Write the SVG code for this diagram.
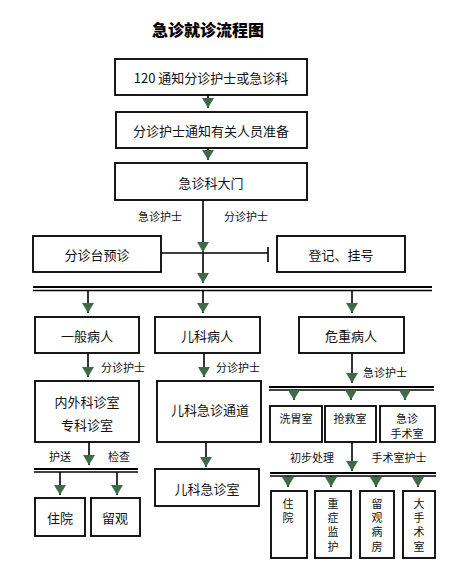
<svg xmlns="http://www.w3.org/2000/svg" width="467" height="583" viewBox="0 0 467 583">
<defs>
<marker id="tri" viewBox="0 0 10 12" refX="10" refY="6" markerWidth="10" markerHeight="12" markerUnits="userSpaceOnUse" orient="auto">
<path d="M0,0 L10,6 L0,12 z" fill="#3d6b48"/>
</marker>
<style>
.box{fill:#fff;stroke:#000;stroke-width:1.8}
.t{font-family:"Noto Sans CJK SC","Noto Sans",sans-serif;font-size:13px;fill:#111;text-anchor:middle;dominant-baseline:central}
.s{font-size:11px}
.v{font-family:"Noto Sans CJK SC","Noto Sans",sans-serif;font-size:11px;fill:#111;writing-mode:vertical-rl;text-orientation:upright;letter-spacing:3.4px}
.title{font-family:"Noto Sans CJK SC",sans-serif;font-size:16px;font-weight:900;fill:#000;text-anchor:middle}
.ln{stroke:#000;stroke-width:1.6;fill:none}
.ar{stroke:#000;stroke-width:1.6;fill:none;marker-end:url(#tri)}
.d1{stroke:#000;stroke-width:2}
.d2{stroke:#000;stroke-width:1.4}
</style>
</defs>
<rect width="467" height="583" fill="#fff"/>
<text class="title" x="208" y="36">急诊就诊流程图</text>

<g id="connectors">
<path class="ar" d="M208,95 V108"/>
<path class="ar" d="M208,148 V160"/>
<path class="ar" d="M203,200 V252"/>
<path class="ln" d="M161,253 H268 M268,247 V262"/>
<path class="ar" d="M203,253 V283"/>
<line class="d1" x1="33" y1="287" x2="432" y2="287"/>
<line class="d2" x1="33" y1="290.5" x2="432" y2="290.5"/>
<path class="ar" d="M88,291 V313"/>
<path class="ar" d="M203,291 V313"/>
<path class="ar" d="M352,291 V313"/>
<path class="ar" d="M88,353 V377"/>
<path class="ar" d="M204,353 V377"/>
<path class="ar" d="M352,353 V383"/>
<line class="d1" x1="269" y1="387" x2="434" y2="387"/>
<line class="d2" x1="269" y1="390" x2="434" y2="390"/>
<path class="ar" d="M294,390 V400"/>
<path class="ar" d="M351,390 V400"/>
<path class="ar" d="M405,390 V400"/>
<path class="ar" d="M206,442 V467"/>
<path class="ar" d="M89,442 V465"/>
<line class="d1" x1="34" y1="469" x2="138" y2="469"/>
<line class="d2" x1="34" y1="472" x2="138" y2="472"/>
<path class="ar" d="M60,472 V495"/>
<path class="ar" d="M117,472 V495"/>
<path class="ar" d="M352,442 V471"/>
<line class="d1" x1="270" y1="473" x2="436" y2="473"/>
<line class="d2" x1="270" y1="476" x2="436" y2="476"/>
<path class="ar" d="M288,476 V487"/>
<path class="ar" d="M331,476 V487"/>
<path class="ar" d="M376,476 V487"/>
<path class="ar" d="M418,476 V487"/>
<text class="t s" x="160" y="216">急诊护士</text>
<text class="t s" x="246" y="216">分诊护士</text>
<text class="t s" x="123" y="367">分诊护士</text>
<text class="t s" x="238" y="367">分诊护士</text>
<text class="t s" x="385" y="372">急诊护士</text>
<text class="t s" x="60" y="456">护送</text>
<text class="t s" x="119" y="456">检查</text>
<text class="t s" x="312" y="457">初步处理</text>
<text class="t s" x="399" y="457">手术室护士</text>
</g>

<g id="n1"><rect class="box" x="115" y="59" width="192" height="36"/><text class="t" x="211" y="77">120 通知分诊护士或急诊科</text></g>
<g id="n2"><rect class="box" x="116" y="112" width="191" height="36"/><text class="t" x="211" y="130">分诊护士通知有关人员准备</text></g>
<g id="n3"><rect class="box" x="115" y="163" width="192" height="37"/><text class="t" x="211" y="182">急诊科大门</text></g>
<g id="n4"><rect class="box" x="33" y="236" width="128" height="36"/><text class="t" x="97" y="254">分诊台预诊</text></g>
<g id="n5"><rect class="box" x="277" y="236" width="128" height="36"/><text class="t" x="341" y="254">登记、挂号</text></g>
<g id="n6"><rect class="box" x="35" y="317" width="104" height="36"/><text class="t" x="87" y="335">一般病人</text></g>
<g id="n7"><rect class="box" x="155" y="317" width="105" height="36"/><text class="t" x="207" y="335">儿科病人</text></g>
<g id="n8"><rect class="box" x="299" y="317" width="105" height="36"/><text class="t" x="351" y="335">危重病人</text></g>
<g id="n9"><rect class="box" x="35" y="381" width="104" height="61"/><text class="t" x="87" y="401">内外科诊室</text><text class="t" x="87" y="424">专科诊室</text></g>
<g id="n10"><rect class="box" x="157" y="381" width="104" height="61"/><text class="t" x="210" y="409">儿科急诊通道</text></g>
<g id="n11"><rect class="box" x="155" y="469" width="104" height="37"/><text class="t" x="207" y="488">儿科急诊室</text></g>
<g id="n12"><rect class="box" x="35" y="498" width="50" height="38"/><text class="t" x="60" y="517">住院</text></g>
<g id="n13"><rect class="box" x="91" y="498" width="49" height="38"/><text class="t" x="115" y="517">留观</text></g>
<g id="n14"><rect class="box" x="270" y="406" width="52" height="36"/><text class="t s" x="296" y="418">洗胃室</text></g>
<g id="n15"><rect class="box" x="325" y="406" width="51" height="36"/><text class="t s" x="350" y="418">抢救室</text></g>
<g id="n16"><rect class="box" x="380" y="406" width="55" height="36"/><text class="t s" x="407" y="418">急诊</text><text class="t s" x="407" y="433">手术室</text></g>
<g id="n17"><rect class="box" x="271" y="491" width="36" height="67"/><text class="v" x="288" y="498">住院</text></g>
<g id="n18"><rect class="box" x="315" y="491" width="36" height="67"/><text class="v" x="333" y="498">重症监护</text></g>
<g id="n19"><rect class="box" x="360" y="491" width="34" height="67"/><text class="v" x="377" y="498">留观病房</text></g>
<g id="n20"><rect class="box" x="403" y="491" width="32" height="67"/><text class="v" x="419" y="498">大手术室</text></g>
</svg>
